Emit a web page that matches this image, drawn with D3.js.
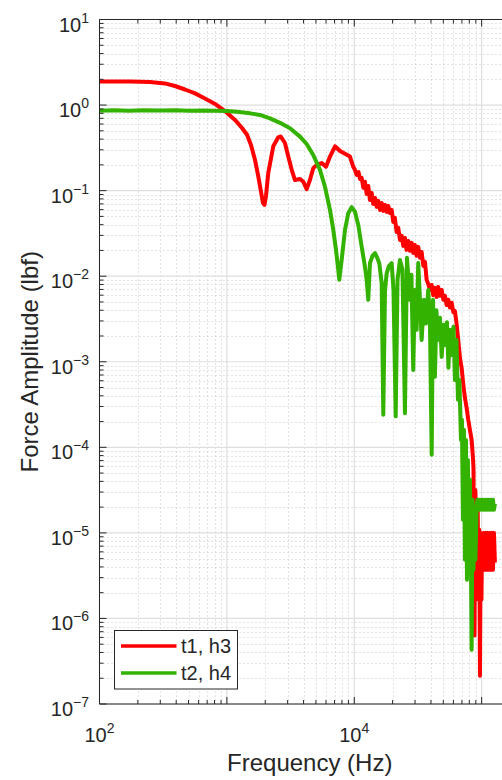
<!DOCTYPE html>
<html>
<head>
<meta charset="utf-8">
<script src="https://cdnjs.cloudflare.com/ajax/libs/d3/7.8.5/d3.min.js"></script>
<style>
  body { margin: 0; background: #fff; }
  text { font-family: "Liberation Sans", Arial, Helvetica, sans-serif; fill: #262626; }
</style>
</head>
<body>
<svg id="chart" width="502" height="780"></svg>
<script>
// Series t1, h3 (red)
var freqT1 = [100, 173, 249, 326, 391, 469, 562, 673, 807, 966, 1158, 1315, 1439, 1546, 1663, 1755, 1853, 1920, 1973, 2028,
  2113, 2312, 2531, 2642, 2857, 3034, 3227, 3424, 3750, 3981, 4230, 4487, 4764, 5070, 5546, 5998, 6447, 7058, 7730, 8457,
  9253, 9819, 10120, 10440, 10790, 11090, 11430, 11780, 12130, 12510, 12880, 13280, 13700, 14090, 14540, 15000, 15420, 15920, 16410, 16900,
  17430, 17960, 18490, 19070, 19660, 20240, 20840, 21500, 22150, 22850, 23550, 24250, 24990, 25740, 26540, 27360, 28240, 29040, 29900, 30870,
  31780, 32800, 33790, 34840, 35900, 36980, 38100, 39260, 40520, 41690, 42980, 44360, 45600, 47080, 48550, 50000, 51500, 53100, 54700, 56400,
  58200, 59900, 61700, 63700, 65500, 67550, 69600, 71800, 73900, 76200, 78500, 80900, 83400, 85500, 86300, 87900, 89200, 90600, 91900, 93100,
  94600, 95800, 97000, 98200, 99600, 100900, 102300, 104200, 106100, 108000, 110000, 112000, 114100, 116200, 118300, 120500, 122700, 124900, 127100];
var ampT1 = [1.89, 1.89, 1.86, 1.79, 1.67, 1.52, 1.37, 1.19, 1.03, 0.85, 0.67, 0.54, 0.45, 0.342, 0.228, 0.153, 0.097, 0.072, 0.068, 0.087,
  0.161, 0.33, 0.42, 0.43, 0.36, 0.25, 0.175, 0.133, 0.137, 0.127, 0.104, 0.133, 0.183, 0.20, 0.21, 0.19, 0.25, 0.33, 0.29, 0.27,
  0.25, 0.19, 0.175, 0.153, 0.165, 0.137, 0.141, 0.108, 0.127, 0.0915, 0.1135, 0.0778, 0.094, 0.070, 0.082, 0.0646, 0.076, 0.0595, 0.0718, 0.058,
  0.068, 0.0564, 0.0663, 0.0549, 0.0595, 0.043, 0.048, 0.0329, 0.0367, 0.0265, 0.0296, 0.0226, 0.028, 0.0203, 0.0258, 0.0198, 0.0245, 0.0187, 0.0232, 0.0173,
  0.022, 0.0164, 0.0192, 0.0132, 0.0147, 0.0091, 0.0081, 0.0069, 0.0079, 0.0060, 0.0073, 0.0057, 0.0075, 0.0059, 0.0069, 0.0053, 0.0059, 0.0046, 0.0053, 0.0043,
  0.0049, 0.0038, 0.0039, 0.0027, 0.0018, 0.00111, 0.00085, 0.00054, 0.00038, 0.00029, 0.00021, 0.00016, 0.000122, 0.000075, 0.000056, 6.3e-7, 3.18e-5, 1.42e-5, 4.85e-6, 1.86e-5,
  1.65e-6, 1.09e-5, 2.14e-7, 1.0e-5, 1.65e-6, 9.5e-6, 3.7e-6, 1.0e-5, 3.7e-6, 1.0e-5, 3.7e-6, 1.0e-5, 3.7e-6, 1.0e-5, 3.7e-6, 1.0e-5, 3.7e-6, 1.0e-5, 4.5e-6];

// Series t2, h4 (green)
var freqT2 = [100, 130, 170, 220, 300, 400, 500, 650, 800, 1000, 1200, 1520, 1820, 2179, 2612, 3129, 3750, 4230, 4764, 5380,
  5888, 6447, 6843, 7184, 7413, 7628, 7963, 8457, 8973, 9544, 10120, 10750, 11430, 12130, 12510, 12880, 13280, 13900, 14540, 15070,
  15720, 16410, 16900, 17430, 17960, 18720, 19660, 20320, 21150, 21850, 22850, 23890, 24990, 25920, 27360, 28100, 29040, 29900, 30870, 31780,
  32800, 33790, 35250, 36560, 38100, 39260, 40520, 41500, 42980, 44170, 45390, 47080, 48550, 50150, 51500, 53400, 54860, 56400, 58500, 60100,
  61700, 63400, 65200, 66900, 68800, 70000, 71300, 72600, 73900, 75300, 76700, 78000, 79400, 80900, 82400, 83400, 84800, 86300, 87900, 89400,
  91400, 92700, 93500, 95300, 97000, 98800, 100400, 102300, 104200, 106100, 108000, 110000, 112000, 114100, 116200, 118300, 120500, 122700, 124900, 127100];
var ampT2 = [0.86, 0.87, 0.86, 0.87, 0.865, 0.87, 0.86, 0.865, 0.86, 0.85, 0.835, 0.80, 0.766, 0.70, 0.62, 0.536, 0.428, 0.351, 0.261, 0.175,
  0.111, 0.0595, 0.0348, 0.0203, 0.0136, 0.0091, 0.0155, 0.0348, 0.0545, 0.064, 0.0569, 0.0397, 0.0222, 0.0129, 0.0091, 0.0053, 0.0142, 0.0173, 0.0186, 0.0167,
  0.0142, 0.0083, 0.00024, 0.0069, 0.0108, 0.0132, 0.0142, 0.0069, 0.00023, 0.0091, 0.0155, 0.0119, 0.00025, 0.0164, 0.0053, 0.0104, 0.0008, 0.0069, 0.00236, 0.0143,
  0.0053, 0.0018, 0.0053, 0.0028, 0.0069, 0.0031, 0.000082, 0.0053, 0.00067, 0.0040, 0.0018, 0.00326, 0.00114, 0.0027, 0.00157, 0.0029, 0.00085, 0.00236, 0.0012, 0.00256,
  0.00061, 0.0018, 0.00036, 0.00061, 0.000122, 0.00021, 1.42e-5, 0.00016, 4.85e-6, 0.000122, 2.83e-6, 7.1e-5, 3.24e-6, 4.2e-5, 4.85e-6, 4.3e-7, 2.44e-5, 3.7e-6, 1.86e-5, 4.85e-6,
  2.13e-5, 2.44e-5, 1.86e-5, 2.44e-5, 1.86e-5, 2.44e-5, 1.86e-5, 2.44e-5, 1.86e-5, 2.44e-5, 1.86e-5, 2.44e-5, 1.86e-5, 2.44e-5, 1.86e-5, 2.44e-5, 1.86e-5, 2.44e-5, 1.86e-5, 2.2e-5];

// Legend + ticks
var seriesNames = ['t1, h3', 't2, h4'];
var seriesColors = ['#ff0000', '#33b200'];
var xLabelTicks = [1e2, 1e4];
var yLabelTicks = [1e1, 1e0, 1e-1, 1e-2, 1e-3, 1e-4, 1e-5, 1e-6, 1e-7];

// axes box in pixels (right edge runs past the picture)
var boxLeft = 99.5, boxTop = 19.5, boxRight = 520, boxBottom = 704;

var svg = d3.select('#chart');
svg.append('rect').attr('width', 502).attr('height', 780).attr('fill', '#fff');

var x = d3.scaleLog().domain([100, 2e5]).range([boxLeft, boxRight]);
var y = d3.scaleLog().domain([1e-7, 10]).range([boxBottom, boxTop]);

var isMajor = function(v) {
  var l = Math.log10(v);
  return Math.abs(l - Math.round(l)) < 1e-9;
};
var xTicks = x.ticks();
var yTicks = y.ticks();

// grid: minor dotted, major solid
var grid = svg.append('g');
grid.selectAll('.xminor').data(xTicks.filter(function(d) {return !isMajor(d)})).enter()
  .append('line')
  .attr('x1', function(d) {return Math.round(x(d)) + 0.5}).attr('x2', function(d) {return Math.round(x(d)) + 0.5})
  .attr('y1', boxTop).attr('y2', boxBottom)
  .attr('stroke', '#c8c8c8').attr('stroke-dasharray', '1,3');
grid.selectAll('.yminor').data(yTicks.filter(function(d) {return !isMajor(d)})).enter()
  .append('line')
  .attr('y1', function(d) {return Math.round(y(d)) + 0.5}).attr('y2', function(d) {return Math.round(y(d)) + 0.5})
  .attr('x1', boxLeft).attr('x2', boxRight)
  .attr('stroke', '#c8c8c8').attr('stroke-dasharray', '1,3');
grid.selectAll('.xmajor').data(xTicks.filter(isMajor)).enter()
  .append('line')
  .attr('x1', function(d) {return x(d)}).attr('x2', function(d) {return x(d)})
  .attr('y1', boxTop).attr('y2', boxBottom)
  .attr('stroke', '#dedede').attr('stroke-width', 1.2);
grid.selectAll('.ymajor').data(yTicks.filter(isMajor)).enter()
  .append('line')
  .attr('y1', function(d) {return y(d)}).attr('y2', function(d) {return y(d)})
  .attr('x1', boxLeft).attr('x2', boxRight)
  .attr('stroke', '#dedede').attr('stroke-width', 1.2);

// data lines, clipped to the axes box
svg.append('clipPath').attr('id', 'clip')
  .append('rect').attr('x', boxLeft).attr('y', boxTop).attr('width', boxRight - boxLeft).attr('height', boxBottom - boxTop);

var line = d3.line()
  .x(function(d) {return x(d[0])})
  .y(function(d) {return y(d[1])});

var series = [
  d3.zip(freqT1, ampT1),
  d3.zip(freqT2, ampT2)
];

svg.append('g').attr('clip-path', 'url(#clip)')
  .selectAll('path').data(series).enter()
  .append('path')
  .attr('d', line)
  .attr('fill', 'none')
  .attr('stroke', function(d, i) {return seriesColors[i]})
  .attr('stroke-width', 4)
  .attr('stroke-linejoin', 'round');

// axes box and ticks
var ax = svg.append('g').attr('stroke', '#262626').attr('fill', 'none');
ax.append('path').attr('d', 'M' + boxRight + ',' + boxTop + 'H' + boxLeft + 'V' + boxBottom + 'H' + boxRight);

ax.selectAll('.xt').data(xTicks).enter()
  .append('path')
  .attr('d', function(d) {
    var len = isMajor(d) ? 7 : 4;
    var px = x(d);
    return 'M' + px + ',' + boxBottom + 'v' + (-len) + 'M' + px + ',' + boxTop + 'v' + len;
  });
ax.selectAll('.yt').data(yTicks).enter()
  .append('path')
  .attr('d', function(d) {
    var len = isMajor(d) ? 7 : 4;
    return 'M' + boxLeft + ',' + y(d) + 'h' + len;
  });

// tick labels with superscript exponents
var expText = function(v) {
  var e = Math.round(Math.log10(v));
  return e < 0 ? '\u2212' + (-e) : String(e);
};

var yl = svg.selectAll('.ylab').data(yLabelTicks).enter()
  .append('text')
  .attr('x', 89)
  .attr('y', function(d) {return y(d) + 12})
  .attr('text-anchor', 'end')
  .style('font-size', '20px');
yl.append('tspan').text('10');
yl.append('tspan').attr('dy', -9).style('font-size', '14px').text(expText);

var xl = svg.selectAll('.xlab').data(xLabelTicks).enter()
  .append('text')
  .attr('x', function(d) {return x(d)})
  .attr('y', 741.5)
  .attr('text-anchor', 'middle')
  .style('font-size', '20px');
xl.append('tspan').text('10');
xl.append('tspan').attr('dy', -9).style('font-size', '14px').text(expText);

// axis titles
svg.append('text')
  .attr('x', (boxLeft + boxRight) / 2)
  .attr('y', 771)
  .attr('text-anchor', 'middle')
  .style('font-size', '24px')
  .text('Frequency (Hz)');

svg.append('text')
  .attr('transform', 'translate(38,' + ((boxTop + boxBottom) / 2) + ') rotate(-90)')
  .attr('text-anchor', 'middle')
  .style('font-size', '24px')
  .text('Force Amplitude (lbf)');

// legend
var legend = svg.append('g');
legend.append('rect')
  .attr('x', 114.5).attr('y', 630.5).attr('width', 123).attr('height', 58.5)
  .attr('fill', '#fff').attr('stroke', '#262626').attr('stroke-width', 1);
var items = legend.selectAll('.item').data(seriesNames).enter()
  .append('g')
  .attr('transform', function(d, i) {return 'translate(0,' + (646 + i * 27) + ')'});
items.append('line')
  .attr('x1', 121).attr('x2', 176.5)
  .attr('stroke', function(d, i) {return seriesColors[i]})
  .attr('stroke-width', 3.5);
items.append('text')
  .attr('x', 181).attr('y', 7)
  .style('font-size', '20px')
  .text(function(d) {return d});
</script>
</body>
</html>
